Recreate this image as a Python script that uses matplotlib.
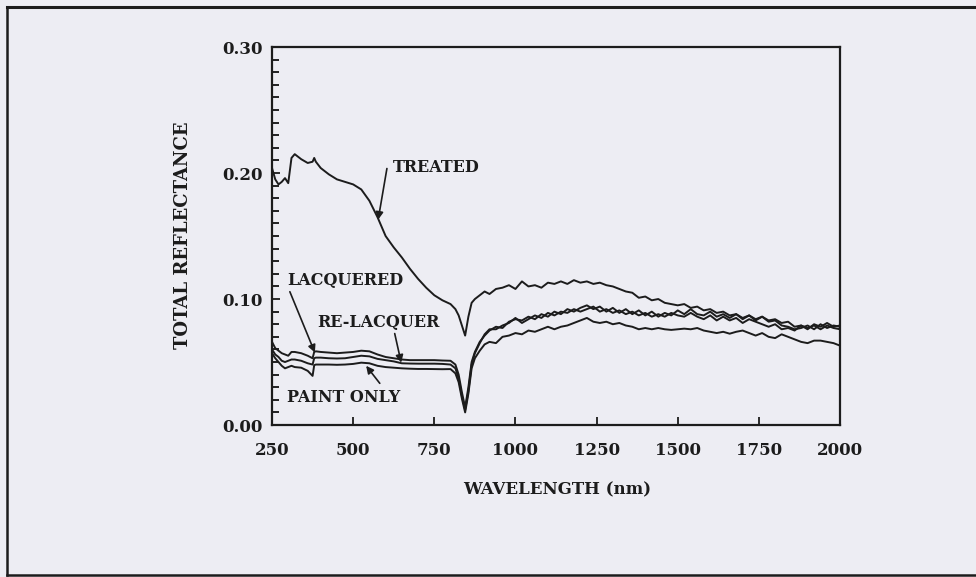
import numpy as np
import matplotlib
matplotlib.use("Agg")
import matplotlib.pyplot as plt
from matplotlib.lines import Line2D

# longitud de onda (nm), malla comun para las cuatro curvas
wl = [250, 260, 270, 280, 290, 300, 310, 320, 340, 360,
      375, 380, 385, 400, 425, 450, 475, 500, 525, 550,
      575, 600, 625, 650, 675, 700, 725, 750, 775, 800,
      815, 825, 835, 845, 855, 865, 875, 890, 905, 920,
      940, 960, 980, 1000,
      1020, 1040, 1060, 1080, 1100, 1120, 1140, 1160, 1180, 1200,
      1220, 1240, 1260, 1280, 1300, 1320, 1340, 1360, 1380, 1400,
      1420, 1440, 1460, 1480, 1500, 1520, 1540, 1560, 1580, 1600,
      1620, 1640, 1660, 1680, 1700, 1720, 1740, 1760, 1780, 1800,
      1820, 1840, 1860, 1880, 1900, 1920, 1940, 1960, 1980, 2000]

treated = [0.204, 0.195, 0.191, 0.193, 0.196, 0.192, 0.212, 0.215, 0.211, 0.208,
           0.209, 0.212, 0.209, 0.204, 0.199, 0.195, 0.193, 0.191, 0.187, 0.178,
           0.165, 0.150, 0.141, 0.133, 0.124, 0.116, 0.109, 0.103, 0.099, 0.096,
           0.092, 0.087, 0.079, 0.071, 0.086, 0.097, 0.100, 0.103, 0.106, 0.104,
           0.108, 0.109, 0.111, 0.108,
           0.114, 0.110, 0.111, 0.109, 0.113, 0.112, 0.114, 0.112, 0.115, 0.113,
           0.114, 0.112, 0.113, 0.111, 0.110, 0.108, 0.106, 0.105, 0.101, 0.102,
           0.099, 0.100, 0.097, 0.096, 0.095, 0.096, 0.093, 0.094, 0.091, 0.092,
           0.089, 0.090, 0.087, 0.088, 0.085, 0.087, 0.084, 0.086, 0.083, 0.084,
           0.081, 0.082, 0.078, 0.079, 0.076, 0.080, 0.078, 0.081, 0.078, 0.079]

lacquered = [0.066, 0.061, 0.059, 0.057, 0.056, 0.055, 0.058, 0.058, 0.057, 0.055,
             0.053, 0.058, 0.0585, 0.058, 0.0575, 0.057, 0.0575, 0.058, 0.059, 0.0585,
             0.056, 0.054, 0.053, 0.052, 0.0515, 0.0515, 0.0515, 0.0515, 0.0512, 0.051,
             0.048, 0.040, 0.026, 0.014, 0.030, 0.050, 0.058, 0.066, 0.071, 0.075,
             0.078, 0.077, 0.082, 0.084,
             0.083, 0.086, 0.084, 0.088, 0.086, 0.090, 0.088, 0.092, 0.090, 0.093,
             0.095, 0.092, 0.094, 0.090, 0.093, 0.089, 0.092, 0.088, 0.091, 0.087,
             0.090, 0.086, 0.089, 0.087, 0.091, 0.088, 0.092, 0.088, 0.087, 0.090,
             0.086, 0.088, 0.085, 0.088, 0.084, 0.087, 0.083, 0.086, 0.082, 0.083,
             0.079, 0.078, 0.076, 0.077, 0.079, 0.076, 0.080, 0.077, 0.079, 0.078]

relacquer = [0.060, 0.056, 0.054, 0.051, 0.050, 0.051, 0.052, 0.052, 0.051, 0.049,
             0.048, 0.053, 0.0535, 0.0535, 0.053, 0.0528, 0.053, 0.054, 0.055, 0.0545,
             0.0525, 0.0515, 0.0505, 0.049, 0.0488, 0.0487, 0.0487, 0.0487, 0.0485, 0.048,
             0.045, 0.037, 0.023, 0.012, 0.027, 0.048, 0.057, 0.065, 0.072, 0.076,
             0.076, 0.079, 0.081, 0.085,
             0.081, 0.084, 0.087, 0.085, 0.089, 0.087, 0.090, 0.089, 0.092, 0.090,
             0.092, 0.094, 0.090, 0.092, 0.089, 0.091, 0.088, 0.090, 0.087, 0.089,
             0.086, 0.088, 0.086, 0.089, 0.087, 0.086, 0.089, 0.086, 0.084, 0.087,
             0.083, 0.086, 0.083, 0.085, 0.081, 0.084, 0.082, 0.080, 0.078, 0.080,
             0.076, 0.077, 0.075, 0.079, 0.077, 0.079, 0.076, 0.079, 0.077, 0.076]

paint_only = [0.057, 0.053, 0.050, 0.047, 0.045, 0.046, 0.047, 0.046, 0.0455, 0.043,
              0.039, 0.0475, 0.048, 0.048, 0.048, 0.0478, 0.048, 0.0485, 0.0495, 0.049,
              0.047, 0.046, 0.0455, 0.045, 0.0447, 0.0445, 0.0445, 0.0444, 0.0443, 0.0444,
              0.041, 0.034, 0.021, 0.010, 0.025, 0.045, 0.053, 0.059, 0.064, 0.066,
              0.065, 0.070, 0.071, 0.073,
              0.072, 0.075, 0.074, 0.076, 0.078, 0.076, 0.078, 0.079, 0.081, 0.083,
              0.085, 0.082, 0.081, 0.082, 0.080, 0.081, 0.079, 0.078, 0.076, 0.077,
              0.076, 0.077, 0.076, 0.0755, 0.076, 0.0765, 0.076, 0.077, 0.075, 0.074,
              0.073, 0.074, 0.0725, 0.074, 0.075, 0.073, 0.071, 0.073, 0.070, 0.069,
              0.072, 0.070, 0.068, 0.066, 0.065, 0.067, 0.067, 0.066, 0.065, 0.063]

xticks = [250, 500, 750, 1000, 1250, 1500, 1750, 2000]
yticks = [0.00, 0.10, 0.20, 0.30]

fondo = '#ededf3'
tinta = '#1c1c1c'
fuente = 'DejaVu Serif'

fig = plt.figure(figsize=(9.76, 5.77), dpi=100, facecolor=fondo)
ax = fig.add_axes([0.2787, 0.2634, 0.582, 0.655])
ax.set_facecolor(fondo)

for serie in (treated, lacquered, relacquer, paint_only):
    ax.plot(wl, serie, color=tinta, lw=1.4, solid_joinstyle='round')

ax.set_xlim(250, 2000)
ax.set_ylim(0, 0.30)
ax.set_xticks(xticks)
ax.set_yticks(yticks)
ax.set_yticks(np.arange(0, 0.301, 0.01), minor=True)
ax.set_xticklabels([str(t) for t in xticks], fontfamily=fuente, fontweight='bold', fontsize=12, color=tinta)
ax.set_yticklabels([f"{t:.2f}" for t in yticks], fontfamily=fuente, fontweight='bold', fontsize=12, color=tinta)
ax.tick_params(axis='x', direction='in', length=6, width=1.3, pad=12, colors=tinta, top=False)
ax.tick_params(axis='y', which='major', direction='in', length=6, width=1.3, pad=7, colors=tinta, right=False)
ax.tick_params(axis='y', which='minor', direction='in', length=5, width=1.2, right=False)
for s in ax.spines.values():
    s.set_linewidth(1.6)
    s.set_color(tinta)

fig.text(183/976, 1-235/577, 'TOTAL REFLECTANCE', rotation=90, ha='center', va='center',
         fontfamily=fuente, fontweight='bold', fontsize=13, color=tinta)
fig.text(557/976, 1-490/577, 'WAVELENGTH (nm)', ha='center', va='center',
         fontfamily=fuente, fontweight='bold', fontsize=12, color=tinta)

flecha = dict(arrowstyle='-|>', lw=1.2, color=tinta, mutation_scale=11, shrinkA=0, shrinkB=0)
etiq = dict(fontfamily=fuente, fontweight='bold', fontsize=11.5, color=tinta, va='center')
ax.text(623, 0.2044, 'TREATED', **etiq)
ax.annotate('', xy=(577, 0.163), xytext=(604, 0.2036), arrowprops=flecha)
ax.text(296, 0.115, 'LACQUERED', **etiq)
ax.annotate('', xy=(382, 0.0575), xytext=(305, 0.1058), arrowprops=flecha)
ax.text(389, 0.0813, 'RE-LACQUER', **etiq)
ax.annotate('', xy=(648, 0.0495), xytext=(628, 0.0726), arrowprops=flecha)
ax.text(296, 0.0221, 'PAINT ONLY', **etiq)
ax.annotate('', xy=(540, 0.047), xytext=(582, 0.0331), arrowprops=flecha)

# marco de la pagina escaneada
xb, yt, yb = 7/976, 1-7/577, 1-575/577
fig.add_artist(Line2D([xb, 1], [yt, yt], transform=fig.transFigure, color=tinta, lw=2.2))
fig.add_artist(Line2D([xb, xb], [yb, yt], transform=fig.transFigure, color=tinta, lw=1.8))
fig.add_artist(Line2D([xb, 1], [yb, yb], transform=fig.transFigure, color=tinta, lw=1.8))

fig.savefig('out.png', dpi=100, facecolor=fondo)
